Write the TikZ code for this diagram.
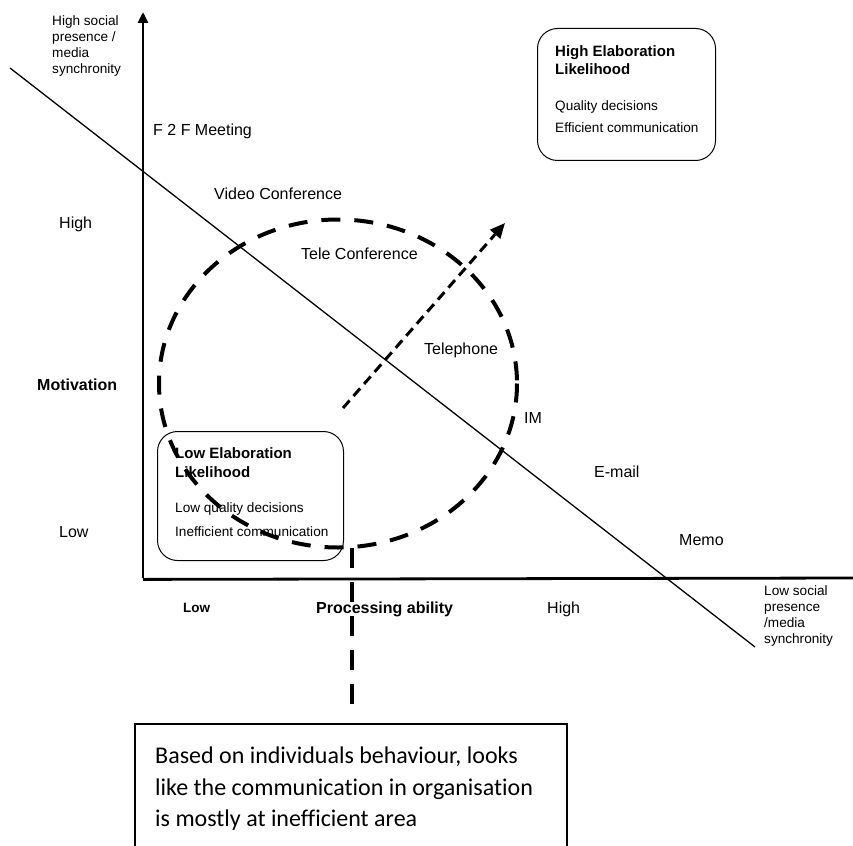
\documentclass[tikz,border=0pt]{standalone}
\usepackage{fontspec}
\setmainfont{Liberation Sans}
\newfontfamily\calibrifont[Ligatures=NoCommon]{Carlito}
\usetikzlibrary{arrows.meta}
\tikzset{
  lbl/.style={anchor=base west, inner sep=0pt, font=\fontsize{16}{19}\selectfont},
  lblb/.style={lbl, font=\fontsize{16}{19}\selectfont\bfseries},
  smalllbl/.style={anchor=north west, inner sep=0pt, align=left, font=\fontsize{13.6}{16}\selectfont},
  boxtitle/.style={anchor=base west, inner sep=0pt, font=\fontsize{15}{18}\selectfont\bfseries},
  boxtext/.style={anchor=base west, inner sep=0pt, font=\fontsize{13.6}{16}\selectfont},
  elabox/.style={draw, line width=1pt, rounded corners=20pt, anchor=north west, inner sep=0pt},
  axisline/.style={line width=2.8pt},
  bigdash/.style={line width=4pt, dash pattern=on 19pt off 14pt},
  notebox/.style={draw, line width=1.5pt, anchor=north west, inner sep=0pt},
  notetext/.style={anchor=north west, inner sep=0pt, align=left, font=\calibrifont\fontsize{24}{31.5}\selectfont}
}
\begin{document}
\begin{tikzpicture}[x=1pt,y=-1pt]
\useasboundingbox (0,0) rectangle (853,845);
% axes
\coordinate (O) at (143,578);
\coordinate (ytop) at (143,12);
\coordinate (xend) at (853,578);
\draw[axisline] (143,579.4) -- (xend);
\draw[axisline, -{Triangle[length=11pt,width=10pt]}] (O) -- (ytop);
% diagonal
\coordinate (d1) at (10,68);
\coordinate (d2) at (755,647);
\draw[line width=1.3pt] (d1) -- (d2);
% dashed ellipse
\coordinate (ec) at (338,383.5);
\draw[bigdash] (ec) ellipse [x radius=179, y radius=164];
% vertical dashed connector
\coordinate (vtop) at (352,548);
\coordinate (vbot) at (352,708);
\draw[line width=4pt, dash pattern=on 20pt off 14pt] (vtop) -- (vbot);
% dashed arrow
\coordinate (a1) at (343,408);
\coordinate (a2) at (505,223);
\draw[line width=3pt, dash pattern=on 10pt off 6pt, -{Triangle[length=15pt,width=13pt]}] (a1) -- (a2);
% axis labels
\node[smalllbl] (ylab) at (52,15.1) {High social\\presence /\\media\\synchronity};
\node[smalllbl] (xlab) at (764,585.1) {Low social\\presence\\/media\\synchronity};
\node[lbl] (f2f) at (153,136) {F 2 F Meeting};
\node[lbl] (video) at (214,199) {Video Conference};
\node[lbl] (tele) at (301,259) {Tele Conference};
\node[lbl] (phone) at (424,354) {Telephone};
\node[lbl] (im) at (524,423) {IM};
\node[lbl] (email) at (594,477) {E-mail};
\node[lbl] (memo) at (679,545) {Memo};
\node[lbl] (highm) at (59,228) {High};
\node[lblb] (motiv) at (37,390) {Motivation};
\node[lbl] (lowm) at (59,537) {Low};
\node[anchor=base west, inner sep=0pt, font=\fontsize{13.5}{16}\selectfont\bfseries] (lowp) at (183,612) {Low};
\node[lblb] (proc) at (316,613) {Processing ability};
\node[lbl] (highp) at (547,613) {High};
% high elaboration box
\node[elabox, minimum width=178pt, minimum height=132pt] (hibox) at (537,28) {};
\node[boxtitle] (hit1) at (555,57) {High Elaboration};
\node[boxtitle] (hit2) at (555,75) {Likelihood};
\node[boxtext] (hit3) at (555,111) {Quality decisions};
\node[boxtext] (hit4) at (555,133) {Efficient communication};
% low elaboration box
\node[elabox, minimum width=186pt, minimum height=129pt] (lobox) at (157,431) {};
\node[boxtitle] (lot1) at (175,458) {Low Elaboration};
\node[boxtitle] (lot2) at (175,477) {Likelihood};
\node[boxtext] (lot3) at (175,512) {Low quality decisions};
\node[boxtext] (lot4) at (175,536) {Inefficient communication};
% note box
\node[notebox, minimum width=432pt, minimum height=140pt] (note) at (134,723) {};
\node[notetext] (notet) at (155,747) {Based on individuals behaviour, looks\\like the communication in organisation\\is mostly at inefficient area};
\end{tikzpicture}
\end{document}
